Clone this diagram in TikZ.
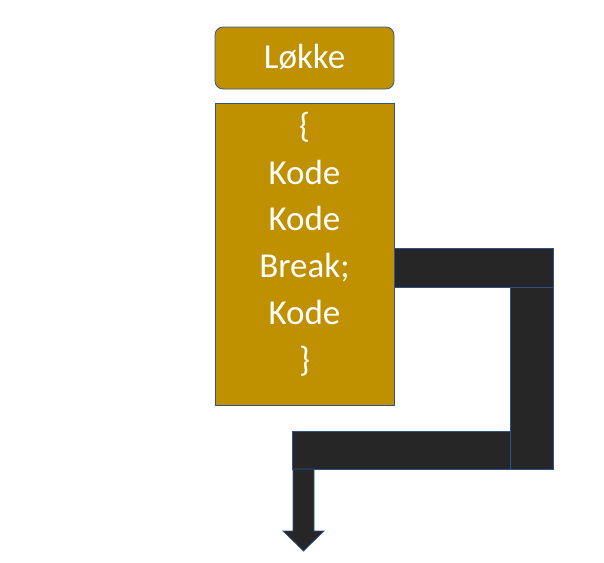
\documentclass[tikz,border=0pt]{standalone}
\usepackage{fontspec}
\setmainfont{Carlito}
\usetikzlibrary{calc}
\definecolor{gold}{HTML}{BF9000}
\definecolor{darkbar}{HTML}{262626}
\definecolor{edgeblue}{HTML}{2F528F}
\tikzset{
  goldbox/.style={draw=edgeblue, line width=0.75pt, fill=gold, inner sep=0pt},
  bartile/.style={draw=edgeblue, line width=0.75pt, fill=darkbar},
  whitetext/.style={text=white, font=\fontsize{35}{46.7}\selectfont, align=center, inner sep=0pt}
}
\begin{document}
\begin{tikzpicture}[x=1pt,y=1pt]
\useasboundingbox (0,0) rectangle (604,-562);
% title box
\node[goldbox, rounded corners=8pt, minimum width=179pt, minimum height=62pt] (title) at (304.5,-58) {};
\node[whitetext] (titletext) at ($(title.center)+(0,1)$) {Løkke};
% body box
\node[goldbox, minimum width=179pt, minimum height=302pt] (body) at (304.5,-254) {};
\node[whitetext] (bodytext) at ($(body.center)+(0,10)$) {\{\\Kode\\Kode\\Break;\\Kode\\\}};
% break path
\filldraw[bartile] (394,-248) rectangle (553,-287);
\filldraw[bartile] (510,-287) rectangle (553,-469);
\filldraw[bartile] (292,-431) rectangle (510,-469);
\filldraw[bartile] (293,-469) -- (314,-469) -- (314,-531) -- (324,-531) -- (303.5,-551) -- (283,-531) -- (293,-531) -- cycle;
\end{tikzpicture}
\end{document}
